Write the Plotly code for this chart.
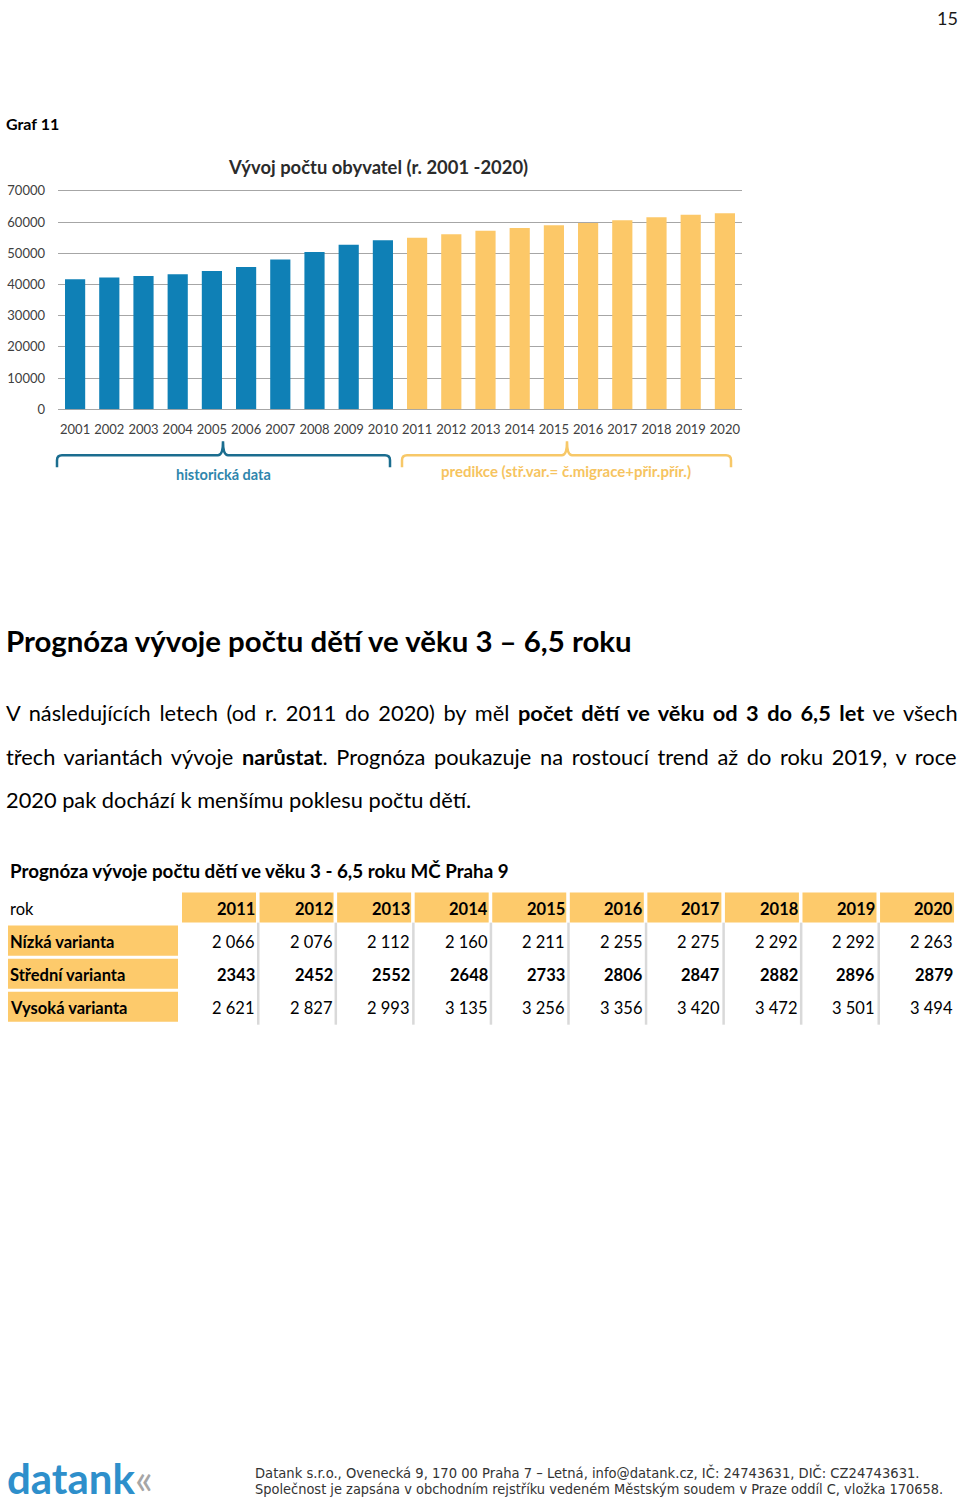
import plotly.graph_objects as go

# ---------------- data ----------------
years_hist = ["2001", "2002", "2003", "2004", "2005", "2006", "2007", "2008", "2009", "2010"]
pop_hist = [41700, 42200, 42700, 43300, 44300, 45600, 48000, 50400, 52700, 54200]
years_pred = ["2011", "2012", "2013", "2014", "2015", "2016", "2017", "2018", "2019", "2020"]
pop_pred = [55000, 56100, 57200, 58100, 59000, 59700, 60600, 61500, 62300, 62800]
y_ticks = [0, 10000, 20000, 30000, 40000, 50000, 60000, 70000]

table_years = ["2011", "2012", "2013", "2014", "2015", "2016", "2017", "2018", "2019", "2020"]
row_labels = ["Nízká varianta", "Střední varianta", "Vysoká varianta"]
row_low = ["2 066", "2 076", "2 112", "2 160", "2 211", "2 255", "2 275", "2 292", "2 292", "2 263"]
row_mid = ["2343", "2452", "2552", "2648", "2733", "2806", "2847", "2882", "2896", "2879"]
row_high = ["2 621", "2 827", "2 993", "3 135", "3 256", "3 356", "3 420", "3 472", "3 501", "3 494"]
row_bold = [False, True, False]

# ---------------- styling ----------------
W, H = 960, 1502
BLUE = "#0f80b6"
ORANGE = "#fcc868"
TAB_ORANGE = "#fdca6b"
GREY_SEP = "#d9d9d9"
CAL = "Lato, 'Open Sans', sans-serif"
FOOT = "'DejaVu Sans Condensed', 'Liberation Sans', sans-serif"

# vertical mapping of the page as it is photographed
TOP_OFF = 8
V_SPAN = 1486


def px(x):
    return x / W


def py(y):
    return 1 - (y - TOP_OFF) / V_SPAN


fig = go.Figure()
fig.add_trace(go.Bar(x=years_hist, y=pop_hist, marker=dict(color=BLUE, line=dict(width=0)),
                     name="historická data", showlegend=False))
fig.add_trace(go.Bar(x=years_pred, y=pop_pred, marker=dict(color=ORANGE, line=dict(width=0)),
                     name="predikce", showlegend=False))

annotations = []
shapes = []


def text(x, y, s, size, color="#000000", family=CAL, xanchor="left", yanchor="middle"):
    annotations.append(dict(x=px(x), y=py(y), xref="paper", yref="paper", text=s, showarrow=False,
                            xanchor=xanchor, yanchor=yanchor, borderpad=0, borderwidth=0,
                            font=dict(size=size, color=color, family=family)))


# page number and caption
annotations.append(dict(x=px(958), y=1, xref="paper", yref="paper", text="15", showarrow=False,
                        xanchor="right", yanchor="top", borderpad=0, borderwidth=0,
                        font=dict(size=18, color="#1a1a1a", family=CAL)))
text(6, 124, "<b>Graf 11</b>", 16, "#000000")

# chart title
text(378, 168, "<b>Vývoj počtu obyvatel (r. 2001 -2020)</b>", 18.4, "#2b2b2b", xanchor="center")

# braces


def brace(x0, x1, xm, ytop, ybot, ytick, color):
    r = 5
    path = (f"M {px(x0)} {py(ybot)} L {px(x0)} {py(ytop + r)} Q {px(x0)} {py(ytop)} {px(x0 + r)} {py(ytop)} "
            f"L {px(xm - r)} {py(ytop)} Q {px(xm)} {py(ytop)} {px(xm)} {py(ytick)} "
            f"Q {px(xm)} {py(ytop)} {px(xm + r)} {py(ytop)} "
            f"L {px(x1 - r)} {py(ytop)} Q {px(x1)} {py(ytop)} {px(x1)} {py(ytop + r)} L {px(x1)} {py(ybot)}")
    shapes.append(dict(type="path", path=path, xref="paper", yref="paper",
                       line=dict(color=color, width=2.5)))


brace(57, 390, 223, 456, 468, 442, "#1b6d8f")
brace(402, 731, 567, 456, 468, 442, "#f7c868")
text(223, 475, "<b>historická data</b>", 14.5, "#2f86ad", xanchor="center")
text(566, 472, "<b>predikce (stř.var.= č.migrace+přir.přír.)</b>", 15, "#f6c45f", xanchor="center")

# heading
text(6, 641, "<b>Prognóza vývoje počtu dětí ve věku 3 – 6,5 roku</b>", 29.4, "#000000")

# body paragraph (justified lines)
text(6, 713, "<span style='word-spacing:3.1px'>V následujících letech (od r. 2011 do 2020) by měl "
     "<b>počet dětí ve věku od 3 do 6,5 let</b> ve všech</span>", 21.8, "#000000")
text(6, 757, "<span style='word-spacing:3.1px'>třech variantách vývoje <b>narůstat</b>. Prognóza poukazuje "
     "na rostoucí trend až do roku 2019, v roce</span>", 21.8, "#000000")
text(6, 800, "2020 pak dochází k menšímu poklesu počtu dětí.", 21.8, "#000000")

# table title
text(10, 871, "<b>Prognóza vývoje počtu dětí ve věku 3 - 6,5 roku MČ Praha 9</b>", 18.8, "#000000")

# table
col_x0 = 182
col_pitch = 77.56
col_w = 74
row_y0 = [893, 926, 959, 992]
row_h = 30
text(10, 909, "rok", 16.5, "#000000")
for i, yr in enumerate(table_years):
    x0 = col_x0 + i * col_pitch
    shapes.append(dict(type="rect", xref="paper", yref="paper", x0=px(x0), x1=px(x0 + col_w),
                       y0=py(row_y0[0]), y1=py(row_y0[0] + row_h), fillcolor=TAB_ORANGE,
                       line=dict(width=0), layer="below"))
    text(x0 + col_w - 1, row_y0[0] + 16, f"<b>{yr}</b>", 16.5, "#000000", xanchor="right")
    if i < len(table_years) - 1:
        shapes.append(dict(type="rect", xref="paper", yref="paper", x0=px(x0 + col_w + 1),
                           x1=px(x0 + col_w + 3.5), y0=py(923), y1=py(1025), fillcolor=GREY_SEP,
                           line=dict(width=0), layer="below"))

rows = [row_low, row_mid, row_high]
for r, (lab, vals, bold) in enumerate(zip(row_labels, rows, row_bold)):
    y0 = row_y0[r + 1]
    shapes.append(dict(type="rect", xref="paper", yref="paper", x0=px(8), x1=px(178),
                       y0=py(y0), y1=py(y0 + row_h), fillcolor=TAB_ORANGE, line=dict(width=0),
                       layer="below"))
    text(10, y0 + 16, f"<b>{lab}</b>", 16.5, "#000000")
    for i, v in enumerate(vals):
        x0 = col_x0 + i * col_pitch
        s = f"<b>{v}</b>" if bold else v
        text(x0 + col_w - 1, y0 + 16, s, 16.5, "#000000", xanchor="right")

# footer
annotations.append(dict(x=px(7), y=py(1478), xref="paper", yref="paper",
                        text="<b>datank</b><span style='color:#a6a6a6'>«</span>", showarrow=False,
                        xanchor="left", yanchor="middle", borderpad=0, borderwidth=0,
                        font=dict(size=42, color="#2e8fcb", family=CAL)))
text(255, 1473, "Datank s.r.o., Ovenecká 9, 170 00 Praha 7 – Letná, info@datank.cz, IČ: 24743631, DIČ: CZ24743631.",
     14.6, "#333333", family=FOOT)
text(255, 1489, "Společnost je zapsána v obchodním rejstříku vedeném Městským soudem v Praze oddíl C, vložka 170658.",
     14.45, "#333333", family=FOOT)

# axis geometry: 0 at y=410, 70000 at y=191.7
Y_MAX = 70500
y_top_px = 410 - (410 - 191.7) * Y_MAX / 70000

fig.update_layout(
    width=W, height=H, autosize=False,
    margin=dict(l=0, r=0, t=0, b=0),
    paper_bgcolor="white", plot_bgcolor="white",
    barmode="overlay", bargap=0.41,
    showlegend=False,
    xaxis=dict(domain=[px(58), px(742)], type="category",
               categoryorder="array", categoryarray=years_hist + years_pred,
               showgrid=False, showline=False, ticks="", ticklabelstandoff=11, tickangle=0,
               tickfont=dict(size=13, color="#404040", family=CAL), fixedrange=True),
    yaxis=dict(domain=[py(410), py(y_top_px)], range=[0, Y_MAX], tickvals=y_ticks,
               ticktext=[str(v) for v in y_ticks], showgrid=True, gridcolor="#a6a6a6", gridwidth=1,
               zeroline=True, zerolinecolor="#a6a6a6", zerolinewidth=1, showline=False, ticks="",
               ticklabelstandoff=12, tickfont=dict(size=13, color="#404040", family=CAL),
               fixedrange=True),
    annotations=annotations,
    shapes=shapes,
)

fig.write_html("out.html", config={"displayModeBar": False},
               post_script="document.documentElement.style.margin='0';document.documentElement.style.padding='0';"
                           "document.body.style.margin='0';document.body.style.padding='0';"
                           "document.documentElement.style.overflow='hidden';document.body.style.overflow='hidden';")
